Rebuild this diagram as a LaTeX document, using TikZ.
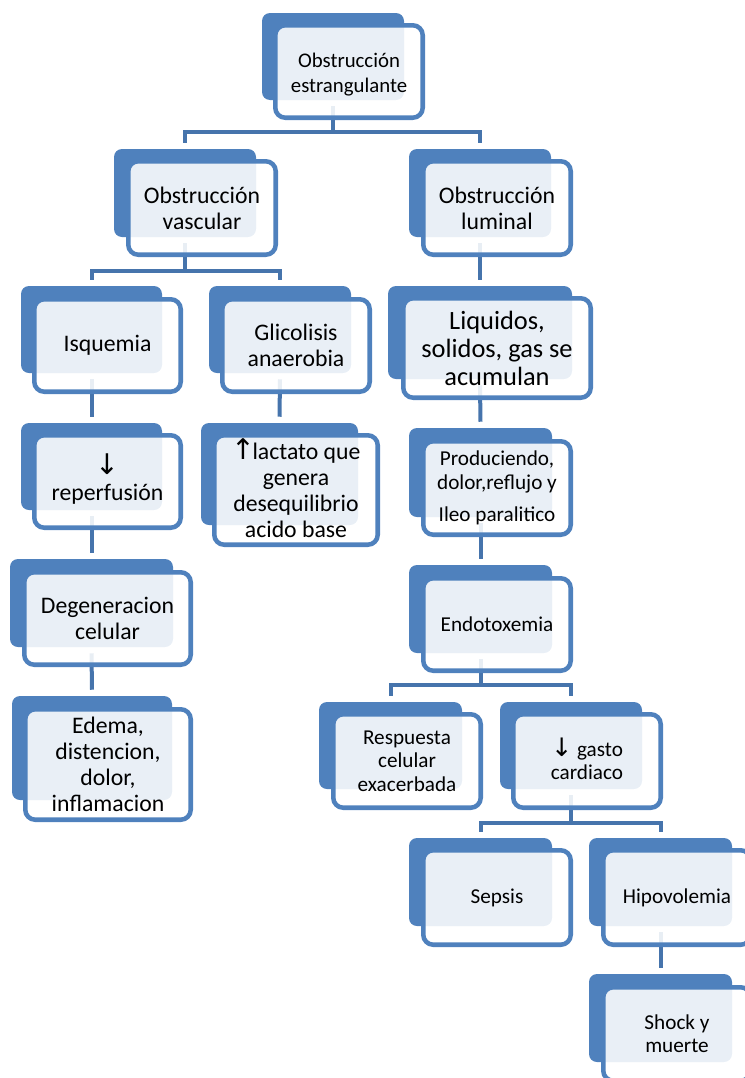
\documentclass[tikz,border=0pt]{standalone}
\usepackage{fontspec}
\setmainfont{Carlito}
\newfontfamily\arrowfont{DejaVu Sans}
\usetikzlibrary{fit}
\pgfdeclarelayer{bg}
\pgfsetlayers{bg,main}
\definecolor{boxblue}{HTML}{4F81BD}
\definecolor{linkblue}{HTML}{4674AC}
\tikzset{
  backbox/.style={fill=boxblue, draw=none, rounded corners=6pt, inner sep=0pt},
  frontbox/.style={draw=boxblue, line width=3.4pt, fill=white, fill opacity=0.88,
    rounded corners=7.5pt, inner sep=-1.7pt},
  lbl/.style={align=center, text=black, inner sep=0pt, anchor=center},
  conn/.style={draw=linkblue, line width=3pt, line join=miter},
  ftop/.style={lbl, font=\fontsize{15.6pt}{18.75pt}\selectfont},
  fbig/.style={lbl, font=\fontsize{17.8pt}{19.5pt}\selectfont},
  fhuge/.style={lbl, font=\fontsize{19.8pt}{21pt}\selectfont},
  fsmall/.style={lbl, font=\fontsize{15.9pt}{17.5pt}\selectfont},
}
\newcommand\arr[1]{\smash{\arrowfont\fontsize{1.2em}{1em}\selectfont #1}\vphantom{I}}
\begin{document}
\begin{tikzpicture}[x=0.75pt,y=-0.75pt]
\useasboundingbox (0,0) rectangle (745,1078);
\begin{scope}
\clip (0,0) rectangle (745,1078);
% level 0
\node[backbox, fit={(262,13) (404,100)}] (top) {};
\node[frontbox, fit={(273,23) (425,120)}] (topf) {};
\node[ftop] (topt) at ([yshift=-2.5pt]topf.center) {Obstrucción\\estrangulante};
% level 1
\node[backbox, fit={(114,149) (256,237)}] (vasc) {};
\node[frontbox, fit={(126,159) (278,257)}] (vascf) {};
\node[fbig] (vasct) at (vascf.center) {Obstrucción\\vascular};
\node[backbox, fit={(409,149) (551,237)}] (lum) {};
\node[frontbox, fit={(421,159) (573,257)}] (lumf) {};
\node[fbig] (lumt) at (lumf.center) {Obstrucción\\luminal};
% left branch
\node[backbox, fit={(21,286) (162,373)}] (isq) {};
\node[frontbox, fit={(32,297) (183,394)}] (isqf) {};
\node[fbig] (isqt) at (isqf.center) {Isquemia};
\node[backbox, fit={(209,286) (351,373)}] (glic) {};
\node[frontbox, fit={(220,297) (372,394)}] (glicf) {};
\node[fbig] (glict) at (glicf.center) {Glicolisis\\anaerobia};
\node[backbox, fit={(21,423) (162,510)}] (rep) {};
\node[frontbox, fit={(32,433) (183,530)}] (repf) {};
\node[fbig] (rept) at (repf.center) {\arr{↓}\\reperfusión};
\node[backbox, fit={(201,423) (358,525)}] (lact) {};
\node[frontbox, fit={(212,433) (380,547)}] (lactf) {};
\node[fbig] (lactt) at (lactf.center) {\arr{↑}\kern-0.12em lactato que\\genera\\desequilibrio\\acido base};
\node[backbox, fit={(10,559) (173,647)}] (deg) {};
\node[frontbox, fit={(22,570) (193,667)}] (degf) {};
\node[fbig] (degt) at (degf.center) {Degeneracion\\celular};
\node[backbox, fit={(12,696) (172,800)}] (ede) {};
\node[frontbox, fit={(23,707) (193,822)}] (edef) {};
\node[fbig] (edet) at (edef.center) {Edema,\\distencion,\\dolor,\\inflamacion};
% right branch
\node[backbox, fit={(388,286) (572,379)}] (liq) {};
\node[frontbox, fit={(401,296) (593,400)}] (liqf) {};
\node[fhuge] (liqt) at (liqf.center) {Liquidos,\\solidos, gas se\\acumulan};
\node[backbox, fit={(409,428) (552,517)}] (prod) {};
\node[frontbox, fit={(421,439) (573,537)}] (prodf) {};
\node[fsmall] (prodt) at (prodf.center) {Produciendo,\\dolor,reflujo y\\[6.5pt]Ileo paralitico};
\node[backbox, fit={(409,565) (552,653)}] (endo) {};
\node[frontbox, fit={(421,576) (573,673)}] (endof) {};
\node[fsmall] (endot) at (endof.center) {Endotoxemia};
\node[backbox, fit={(319,702) (462,789)}] (resp) {};
\node[frontbox, fit={(331,712) (483,810)}] (respf) {};
\node[fsmall] (respt) at (respf.center) {Respuesta\\celular\\exacerbada};
\node[backbox, fit={(500,702) (642,789)}] (gasto) {};
\node[frontbox, fit={(511,712) (663,810)}] (gastof) {};
\node[fsmall] (gastot) at (gastof.center) {\arr{↓} gasto\\cardiaco};
\node[backbox, fit={(409,838) (552,926)}] (sep) {};
\node[frontbox, fit={(421,848) (573,947)}] (sepf) {};
\node[fsmall] (sept) at (sepf.center) {Sepsis};
\node[backbox, fit={(589,838) (732,926)}] (hipo) {};
\node[frontbox, fit={(601,848) (753,947)}] (hipof) {};
\node[fsmall] (hipot) at (hipof.center) {Hipovolemia};
\node[backbox, fit={(589,974) (732,1062)}] (shock) {};
\node[frontbox, fit={(601,985) (753,1083)}] (shockf) {};
\node[fsmall] (shockt) at (shockf.center) {Shock y\\muerte};
\end{scope}
\begin{pgfonlayer}{bg}
% top -> vasc, lum
\draw[conn] ([yshift=-4.5pt]top.south) -- (top.south |- 0,132);
\draw[conn] ([yshift=4.5pt]vasc.north) -- (vasc.north |- 0,132) -- (lum.north |- 0,132) -- ([yshift=4.5pt]lum.north);
% vasc -> isq, glic
\draw[conn] ([yshift=-4.5pt]vasc.south) -- (vasc.south |- 0,271);
\draw[conn] ([yshift=4.5pt]isq.north) -- (isq.north |- 0,271) -- (glic.north |- 0,271) -- ([yshift=4.5pt]glic.north);
% lum -> liq
\draw[conn] ([yshift=-4.5pt]lum.south) -- ([yshift=4.5pt]liq.north);
% left chains
\draw[conn] ([yshift=-4.5pt]isq.south) -- ([yshift=4.5pt]rep.north);
\draw[conn] ([yshift=-4.5pt]glic.south) -- ([yshift=4.5pt]lact.north);
\draw[conn] ([yshift=-4.5pt]rep.south) -- ([yshift=4.5pt]deg.north);
\draw[conn] ([yshift=-4.5pt]deg.south) -- ([yshift=4.5pt]ede.north);
% right chains
\draw[conn] ([yshift=-4.5pt]liq.south) -- ([yshift=4.5pt]prod.north);
\draw[conn] ([yshift=-4.5pt]prod.south) -- ([yshift=4.5pt]endo.north);
% endo -> resp, gasto
\draw[conn] ([yshift=-4.5pt]endo.south) -- (endo.south |- 0,685);
\draw[conn] ([yshift=4.5pt]resp.north) -- (resp.north |- 0,685) -- (gasto.north |- 0,685) -- ([yshift=4.5pt]gasto.north);
% gasto -> sep, hipo
\draw[conn] ([yshift=-4.5pt]gasto.south) -- (gasto.south |- 0,823);
\draw[conn] ([yshift=4.5pt]sep.north) -- (sep.north |- 0,823) -- (hipo.north |- 0,823) -- ([yshift=4.5pt]hipo.north);
% hipo -> shock
\draw[conn] ([yshift=-4.5pt]hipo.south) -- ([yshift=4.5pt]shock.north);
\end{pgfonlayer}
\end{tikzpicture}
\end{document}
